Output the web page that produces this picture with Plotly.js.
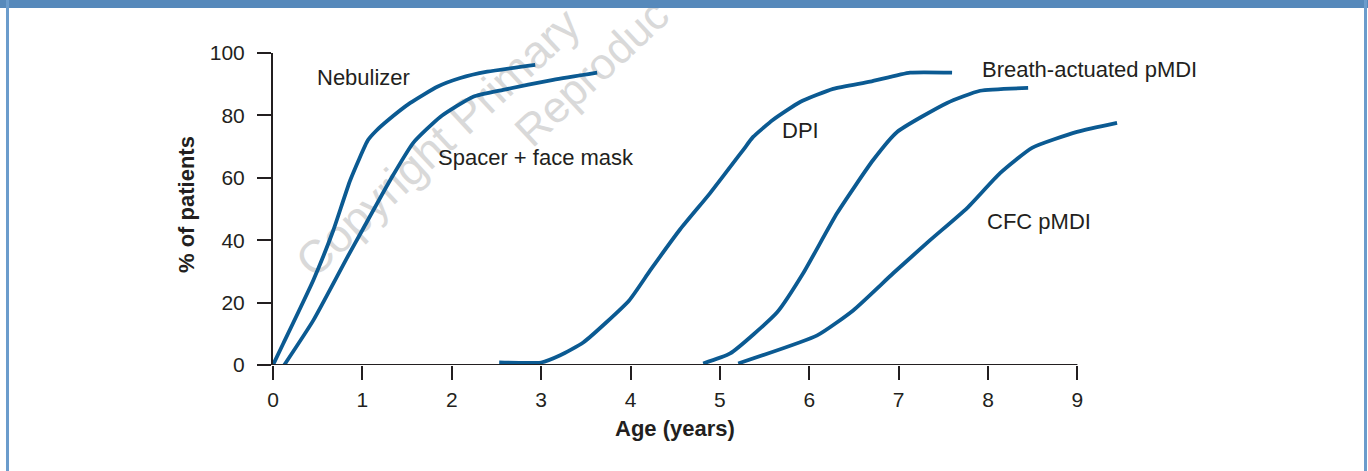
<!DOCTYPE html>
<html>
<head>
<meta charset="utf-8">
<script src="https://cdn.plot.ly/plotly-3.0.1.min.js"></script>
<style>
  html, body { margin: 0; padding: 0; background: #ffffff; width: 1368px; height: 471px; overflow: hidden; }
  #chart { position: absolute; left: 0; top: 0; width: 1368px; height: 471px; z-index: 1; }
  .wm { position: absolute; z-index: 0; font-family: "Liberation Sans", Arial, sans-serif; font-size: 46px;
        color: #d9d9d9; white-space: nowrap; transform-origin: 0% 50%; line-height: 1; }
  .frame { position: absolute; z-index: 2; background: #5689bb; }
</style>
</head>
<body>
<div class="wm" style="left:303px; top:245px; transform: rotate(-43deg);">Copyright Primary</div>
<div class="wm" style="left:522px; top:116px; font-size:44px; transform: rotate(-43deg);">Reproduc</div>
<div id="chart"></div>
<div class="frame" style="left:0; top:0; width:1368px; height:8px;"></div>
<div class="frame" style="left:6px; top:0; width:3px; height:471px; background:#6b9ccc;"></div>
<div class="frame" style="left:1364px; top:0; width:3px; height:471px; background:#6b9ccc;"></div>
<script>
// Age (years) and % of patients for each device
const nebulizerAge = [0, 0.115, 0.451, 0.675, 0.865, 1.063, 1.152, 1.276, 1.536, 1.838, 2.096, 2.398, 2.934];
const nebulizerPct = [0, 6.9, 27.2, 43.2, 59.3, 72.1, 75.0, 78.2, 84.0, 89.2, 92.0, 94.0, 96.2];

const spacerAge = [0.126, 0.451, 0.831, 0.999, 1.312, 1.569, 1.871, 2.24, 2.576, 3.135, 3.627];
const spacerPct = [0, 14.3, 34.5, 43.2, 59.3, 71.2, 79.5, 86.0, 88.2, 91.4, 93.7];

const dpiAge = [2.531, 3.001, 3.214, 3.471, 3.985, 4.22, 4.556, 4.891, 5.26, 5.372, 5.596, 5.898, 6.267, 6.681, 7.129, 7.598];
const dpiPct = [0.8, 0.8, 3.1, 7.2, 20.7, 30.3, 43.5, 55.1, 68.9, 73.1, 78.6, 84.3, 88.5, 90.8, 93.7, 93.7];

const breathAge = [4.813, 5.115, 5.641, 5.932, 6.312, 6.715, 6.983, 7.542, 7.912, 8.449];
const breathPct = [0.5, 3.7, 16.9, 29.4, 48.7, 65.7, 74.7, 84.0, 87.9, 88.8];

const cfcAge = [5.205, 6.089, 6.491, 6.939, 7.352, 7.766, 8.135, 8.493, 8.996, 9.444];
const cfcPct = [0.5, 9.5, 17.5, 29.4, 40.0, 50.3, 61.5, 69.6, 74.7, 77.6];

const xTicks = [0, 1, 2, 3, 4, 5, 6, 7, 8, 9];
const yTicks = [0, 20, 40, 60, 80, 100];

// label texts and the (age, %) spot where each sits
const seriesNames = ["Nebulizer", "Spacer + face mask", "DPI", "Breath-actuated pMDI", "CFC pMDI"];
const labelAge = [1.01, 2.94, 5.897, 9.137, 8.566];
const labelPct = [92.1, 66.4, 75.3, 94.6, 45.9];

const lineColor = "#0b5a92";
const axisColor = "#231f20";
const font = "Liberation Sans, Arial, Helvetica, sans-serif";

const series = [
  [nebulizerAge, nebulizerPct],
  [spacerAge, spacerPct],
  [dpiAge, dpiPct],
  [breathAge, breathPct],
  [cfcAge, cfcPct]
];

const traces = series.map((s, i) => ({
  type: "scatter",
  mode: "lines",
  name: seriesNames[i],
  x: s[0],
  y: s[1],
  line: { color: lineColor, width: 3.8, shape: "spline", smoothing: 0.5 },
  hoverinfo: "skip"
}));

const annotations = seriesNames.map((name, i) => ({
  text: name, x: labelAge[i], y: labelPct[i], xref: "x", yref: "y",
  showarrow: false, xanchor: "center", yanchor: "middle",
  font: { family: font, size: 22, color: axisColor }
}));

annotations.push({
  text: "<b>Age (years)</b>", x: (xTicks[0] + xTicks[xTicks.length - 1]) / 2, xref: "x",
  y: -0.202, yref: "paper", showarrow: false, xanchor: "center", yanchor: "middle",
  font: { family: font, size: 22, color: axisColor }
});
annotations.push({
  text: "<b>% of patients</b>", x: -0.1014, xref: "paper", y: 0.516, yref: "paper",
  textangle: -90, showarrow: false, xanchor: "center", yanchor: "middle",
  font: { family: font, size: 22, color: axisColor }
});

const layout = {
  width: 1368, height: 471,
  margin: { l: 273, r: 237, t: 53, b: 106, pad: 0 },
  paper_bgcolor: "rgba(0,0,0,0)",
  plot_bgcolor: "rgba(0,0,0,0)",
  showlegend: false,
  xaxis: {
    range: [0, 9.6], showgrid: false, zeroline: false, showline: false,
    tickmode: "array", tickvals: xTicks, ticktext: xTicks.map(String),
    ticks: "outside", ticklen: 14, tickwidth: 2, tickcolor: axisColor,
    ticklabelstandoff: 2,
    tickfont: { family: font, size: 21, color: axisColor }, fixedrange: true
  },
  yaxis: {
    range: [0, 100], showgrid: false, zeroline: false, showline: true,
    linecolor: axisColor, linewidth: 2,
    tickmode: "array", tickvals: yTicks, ticktext: yTicks.map(String),
    ticks: "outside", ticklen: 14, tickwidth: 2, tickcolor: axisColor,
    ticklabelstandoff: 8,
    tickfont: { family: font, size: 21, color: axisColor }, fixedrange: true
  },
  shapes: [{
    type: "line", xref: "x", yref: "y",
    x0: xTicks[0], x1: xTicks[xTicks.length - 1], y0: yTicks[0], y1: yTicks[0],
    line: { color: axisColor, width: 2 }
  }],
  annotations: annotations
};

Plotly.newPlot("chart", traces, layout, { displayModeBar: false, staticPlot: true });
</script>
</body>
</html>
